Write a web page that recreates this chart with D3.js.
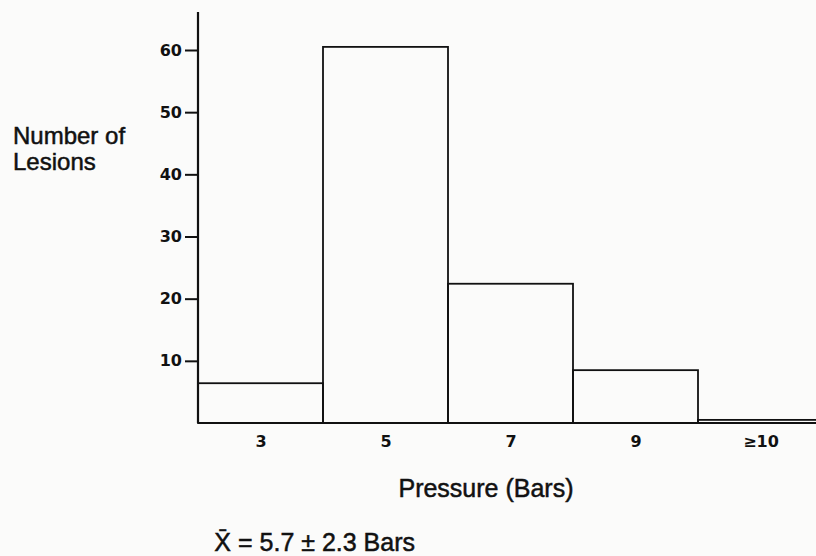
<!DOCTYPE html>
<html><head><meta charset="utf-8">
<script src="https://cdn.jsdelivr.net/npm/d3@7"></script>
<style>body{margin:0;background:#fbfbfa}</style>
</head><body>
<svg id="c" width="816" height="556"></svg>
<script>
const binEdges = [2, 4, 6, 8, 10, 12];
const categories = ["3", "5", "7", "9", "≥10"];
const lesions = [6.4, 60.5, 22.4, 8.5, 0.5];
const yTicks = [10, 20, 30, 40, 50, 60];

const svg = d3.select("#c");
const x = d3.scaleLinear().domain([2, 12]).range([198, 823]);
const y = d3.scaleLinear().domain([0, 60]).range([423, 50]);

const data = categories.map((c, i) => ({c, v: lesions[i], x0: binEdges[i], x1: binEdges[i + 1]}));

svg.append("g").selectAll("rect").data(data).join("rect")
  .attr("x", d => x(d.x0)).attr("width", d => x(d.x1) - x(d.x0))
  .attr("y", d => y(d.v)).attr("height", d => y(0) - y(d.v))
  .attr("fill", "none").attr("stroke", "#111").attr("stroke-width", 1.8);

const tickFont = "'DejaVu Sans', Lato, sans-serif";
// y axis
const yAxis = d3.axisLeft(y).tickValues(yTicks).tickSize(13).tickPadding(3).tickSizeOuter(0);
const gy = svg.append("g").attr("transform", "translate(198,0)").call(yAxis);
gy.select(".domain").remove();
gy.selectAll(".tick line").attr("stroke", "#111").attr("stroke-width", 2);
gy.selectAll(".tick text").attr("font-family", tickFont)
  .attr("font-weight", "bold").attr("font-size", 16).attr("fill", "#111");
svg.append("line").attr("x1", 198).attr("x2", 198).attr("y1", 12).attr("y2", y(0))
  .attr("stroke", "#111").attr("stroke-width", 2.2);

// x axis
const xAxis = d3.axisBottom(x).tickValues(data.map(d => (d.x0 + d.x1) / 2))
  .tickFormat((d, i) => categories[i]).tickSize(0).tickPadding(13);
const gx = svg.append("g").attr("transform", `translate(0,${y(0)})`).call(xAxis);
gx.select(".domain").remove();
gx.selectAll(".tick text").attr("font-family", tickFont)
  .attr("font-weight", "bold").attr("font-size", 16).attr("fill", "#111");
svg.append("line").attr("x1", 198).attr("x2", 816).attr("y1", y(0)).attr("y2", y(0))
  .attr("stroke", "#111").attr("stroke-width", 2.2);

const tf = "'Liberation Sans', Arial, sans-serif";
function label(tx, ty, s, anchor, fs) {
  svg.append("text").attr("x", tx).attr("y", ty).attr("text-anchor", anchor || "start")
    .attr("font-family", tf).attr("font-size", fs || 25).attr("fill", "#111")
    .attr("stroke", "#111").attr("stroke-width", 0.5).text(s);
}
label(13, 144, "Number of", "start", 24);
label(13, 170, "Lesions", "start", 24);
label(486, 497, "Pressure (Bars)", "middle");
label(415, 551, "X\u0304 = 5.7 ± 2.3 Bars", "end");
</script>
</body></html>
